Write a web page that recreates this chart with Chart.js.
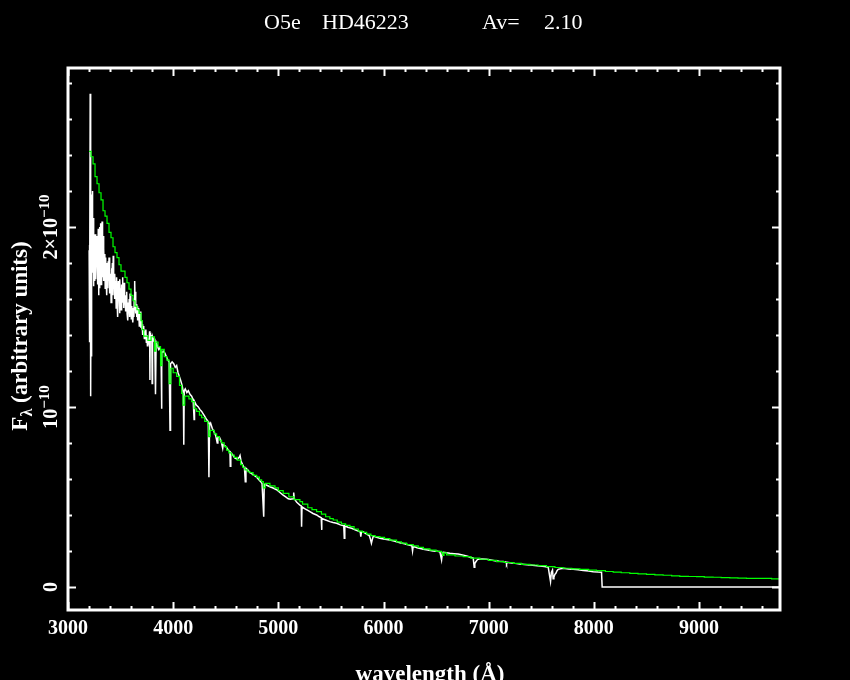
<!DOCTYPE html>
<html>
<head>
<meta charset="utf-8">
<title>O5e HD46223</title>
<script src="https://cdn.jsdelivr.net/npm/chart.js@4.4.0/dist/chart.umd.min.js"></script>
<style>
  html, body { margin: 0; padding: 0; background: #000; }
  #wrap { width: 850px; height: 680px; }
</style>
</head>
<body>
<div id="wrap"><canvas id="chart" width="850" height="680"></canvas></div>
<script>
// flux values are in units of 1e-10 (arbitrary units), wavelengths in Angstrom
const modelWave = [3200, 3219, 3238, 3257, 3276, 3295, 3314, 3333, 3352, 3371, 3390, 3409, 3428, 3447, 3466, 3485, 3504, 3523, 3542, 3561,
    3580, 3599, 3618, 3637, 3656, 3675, 3694, 3705, 3720, 3760, 3790, 3822, 3835, 3856, 3880, 3893, 3915, 3940, 3962, 3978,
    4000, 4033, 4060, 4081, 4093, 4110, 4150, 4176, 4200, 4223, 4250, 4271, 4300, 4330, 4338, 4352, 4390, 4413, 4440, 4460,
    4485, 4508, 4530, 4555, 4580, 4609, 4641, 4660, 4683, 4710, 4730, 4760, 4794, 4820, 4841, 4857, 4875, 4920, 4968, 5000,
    5046, 5100, 5150, 5205, 5230, 5280, 5320, 5364, 5410, 5450, 5490, 5522, 5560, 5600, 5640, 5681, 5720, 5760, 5800, 5840,
    5880, 5920, 5966, 6010, 6060, 6124, 6170, 6220, 6283, 6330, 6380, 6441, 6500, 6552, 6563, 6575, 6600, 6680, 6758, 6830,
    6916, 7000, 7075, 7150, 7233, 7310, 7392, 7470, 7550, 7630, 7708, 7790, 7867, 7950, 8025, 8110, 8184, 8260, 8342, 8420,
    8501, 8580, 8659, 8740, 8817, 8900, 8976, 9050, 9134, 9210, 9293, 9370, 9451, 9530, 9609, 9690, 9770];
const modelFlux = [2.42, 2.39, 2.35, 2.28, 2.24, 2.19, 2.15, 2.09, 2.06, 2.02, 1.97, 1.94, 1.89, 1.857, 1.83, 1.79, 1.755, 1.755, 1.72, 1.69,
    1.655, 1.62, 1.59, 1.56, 1.54, 1.52, 1.48, 1.43, 1.394, 1.37, 1.39, 1.31, 1.36, 1.335, 1.23, 1.32, 1.28, 1.26, 1.13, 1.215,
    1.19, 1.17, 1.12, 1.075, 1.01, 1.06, 1.045, 1.03, 0.99, 0.975, 0.955, 0.94, 0.92, 0.90, 0.835, 0.87, 0.85, 0.835, 0.815, 0.80,
    0.78, 0.76, 0.745, 0.733, 0.72, 0.705, 0.68, 0.665, 0.65, 0.64, 0.635, 0.62, 0.61, 0.595, 0.585, 0.55, 0.575, 0.562, 0.55, 0.535,
    0.52, 0.50, 0.485, 0.474, 0.46, 0.44, 0.43, 0.418, 0.405, 0.39, 0.38, 0.372, 0.36, 0.35, 0.342, 0.335, 0.322, 0.31, 0.303, 0.294,
    0.285, 0.28, 0.276, 0.268, 0.26, 0.25, 0.243, 0.235, 0.228, 0.22, 0.212, 0.205, 0.198, 0.19, 0.175, 0.19, 0.178, 0.172, 0.168, 0.16,
    0.154, 0.148, 0.141, 0.136, 0.131, 0.126, 0.122, 0.118, 0.113, 0.108, 0.104, 0.10, 0.098, 0.094, 0.091, 0.086, 0.082, 0.079, 0.076, 0.073,
    0.07, 0.067, 0.065, 0.062, 0.059, 0.058, 0.057, 0.055, 0.054, 0.052, 0.05, 0.049, 0.048, 0.048, 0.048, 0.045, 0.043];

const obsWave = [3201, 3203, 3205, 3208, 3211, 3214, 3217, 3220, 3223, 3226, 3229, 3232, 3235, 3238, 3241, 3244, 3247, 3250, 3254, 3257,
    3260, 3263, 3266, 3270, 3273, 3276, 3279, 3282, 3285, 3288, 3291, 3294, 3297, 3300, 3303, 3306, 3309, 3312, 3315, 3318,
    3321, 3324, 3327, 3330, 3333, 3336, 3339, 3342, 3346, 3350, 3354, 3358, 3362, 3366, 3370, 3374, 3378, 3382, 3386, 3390,
    3394, 3398, 3402, 3406, 3410, 3414, 3418, 3422, 3426, 3430, 3434, 3438, 3442, 3446, 3450, 3454, 3458, 3462, 3466, 3470,
    3474, 3478, 3482, 3486, 3490, 3494, 3498, 3502, 3506, 3510, 3514, 3518, 3522, 3526, 3530, 3534, 3538, 3542, 3546, 3550,
    3554, 3558, 3562, 3566, 3570, 3574, 3578, 3582, 3586, 3590, 3594, 3598, 3602, 3606, 3610, 3614, 3618, 3622, 3626, 3630,
    3634, 3638, 3642, 3646, 3650, 3654, 3658, 3662, 3666, 3670, 3674, 3678, 3682, 3686, 3690, 3694, 3698, 3702, 3706, 3710,
    3714, 3718, 3722, 3726, 3730, 3735, 3740, 3745, 3750, 3755, 3760, 3765, 3770, 3776, 3779, 3782, 3790, 3797, 3800, 3804,
    3815, 3825, 3832, 3838, 3850, 3862, 3875, 3885, 3889, 3893, 3905, 3920, 3935, 3950, 3962, 3970, 3975, 3990, 4005, 4020,
    4033, 4046, 4058, 4070, 4085, 4097, 4101, 4105, 4115, 4130, 4144, 4160, 4176, 4190, 4199, 4203, 4220, 4239, 4255, 4271,
    4287, 4302, 4318, 4334, 4340, 4346, 4356, 4372, 4388, 4405, 4419, 4425, 4438, 4456, 4471, 4476, 4502, 4525, 4540, 4543,
    4548, 4570, 4588, 4610, 4628, 4636, 4645, 4660, 4678, 4686, 4692, 4710, 4730, 4746, 4770, 4794, 4815, 4832, 4845, 4861,
    4866, 4890, 4920, 4950, 4984, 5015, 5046, 5070, 5094, 5115, 5140, 5146, 5152, 5175, 5205, 5218, 5221, 5225, 5250, 5280,
    5300, 5330, 5364, 5390, 5408, 5411, 5415, 5450, 5490, 5520, 5554, 5590, 5622, 5627, 5632, 5660, 5697, 5730, 5760, 5780,
    5784, 5790, 5810, 5839, 5865, 5876, 5885, 5892, 5903, 5935, 5966, 6000, 6030, 6061, 6100, 6156, 6200, 6251, 6270, 6276,
    6282, 6320, 6378, 6420, 6472, 6510, 6536, 6552, 6560, 6568, 6600, 6631, 6670, 6710, 6750, 6790, 6820, 6853, 6862, 6868,
    6878, 6890, 6900, 6940, 6979, 7020, 7059, 7100, 7138, 7165, 7170, 7176, 7202, 7250, 7297, 7340, 7392, 7440, 7487, 7530,
    7566, 7588, 7596, 7607, 7613, 7620, 7630, 7639, 7650, 7661, 7708, 7760, 7803, 7850, 7899, 7950, 7994, 8040, 8073, 8079,
    9770];
const obsFlux = [1.87, 1.36, 1.90, 1.45, 2.74, 1.40, 1.06, 1.95, 1.28, 2.18, 1.75, 2.20, 1.80, 2.05, 1.67, 1.98, 1.75, 1.93, 1.70, 1.96,
    1.82, 1.94, 1.71, 1.90, 1.78, 1.95, 1.68, 1.92, 1.74, 1.99, 1.62, 1.97, 1.80, 2.00, 1.66, 1.95, 1.85, 2.02, 1.68, 1.93,
    1.76, 2.03, 1.72, 1.90, 1.80, 1.95, 1.70, 1.88, 1.74, 1.85, 1.66, 1.83, 1.72, 1.80, 1.62, 1.78, 1.66, 1.81, 1.70, 1.83,
    1.63, 1.76, 1.68, 1.74, 1.58, 1.77, 1.68, 1.80, 1.62, 1.84, 1.66, 1.72, 1.60, 1.74, 1.64, 1.70, 1.55, 1.72, 1.60, 1.68,
    1.50, 1.70, 1.60, 1.66, 1.52, 1.71, 1.58, 1.66, 1.54, 1.68, 1.60, 1.72, 1.58, 1.65, 1.55, 1.69, 1.57, 1.62, 1.53, 1.60,
    1.56, 1.64, 1.52, 1.58, 1.48, 1.57, 1.53, 1.60, 1.50, 1.63, 1.55, 1.58, 1.49, 1.56, 1.52, 1.55, 1.47, 1.53, 1.50, 1.60,
    1.70, 1.58, 1.64, 1.52, 1.57, 1.50, 1.56, 1.48, 1.55, 1.50, 1.53, 1.45, 1.52, 1.48, 1.53, 1.44, 1.48, 1.43, 1.46, 1.40,
    1.45, 1.41, 1.44, 1.38, 1.42, 1.38, 1.43, 1.36, 1.40, 1.34, 1.38, 1.35, 1.37, 1.42, 1.15, 1.41, 1.38, 1.40, 1.13, 1.39,
    1.37, 1.36, 1.07, 1.36, 1.34, 1.32, 1.33, 1.30, 0.99, 1.30, 1.31, 1.30, 1.28, 1.26, 1.25, 0.87, 1.24, 1.25, 1.24, 1.22,
    1.23, 1.19, 1.17, 1.15, 1.12, 1.08, 0.79, 1.09, 1.10, 1.08, 1.09, 1.07, 1.06, 1.04, 0.93, 1.03, 1.01, 1.00, 0.985, 0.975,
    0.96, 0.946, 0.93, 0.918, 0.61, 0.90, 0.91, 0.88, 0.863, 0.84, 0.80, 0.835, 0.835, 0.81, 0.77, 0.79, 0.78, 0.76, 0.75, 0.67,
    0.746, 0.73, 0.715, 0.71, 0.72, 0.73, 0.70, 0.68, 0.66, 0.585, 0.66, 0.65, 0.635, 0.63, 0.62, 0.61, 0.595, 0.585, 0.575, 0.39,
    0.57, 0.565, 0.557, 0.55, 0.54, 0.525, 0.51, 0.50, 0.49, 0.487, 0.49, 0.525, 0.49, 0.47, 0.455, 0.45, 0.335, 0.445, 0.435, 0.425,
    0.418, 0.408, 0.40, 0.39, 0.385, 0.317, 0.38, 0.372, 0.363, 0.358, 0.354, 0.345, 0.34, 0.27, 0.34, 0.332, 0.326, 0.318, 0.31, 0.305,
    0.28, 0.305, 0.305, 0.294, 0.285, 0.265, 0.243, 0.26, 0.283, 0.276, 0.27, 0.266, 0.264, 0.261, 0.255, 0.246, 0.24, 0.232, 0.228, 0.20,
    0.226, 0.218, 0.209, 0.205, 0.20, 0.198, 0.196, 0.15, 0.19, 0.193, 0.19, 0.187, 0.185, 0.183, 0.178, 0.172, 0.166, 0.16, 0.11, 0.13,
    0.14, 0.15, 0.154, 0.155, 0.154, 0.15, 0.146, 0.143, 0.141, 0.138, 0.128, 0.137, 0.135, 0.131, 0.128, 0.125, 0.122, 0.119, 0.117, 0.114,
    0.11, 0.03, 0.08, 0.094, 0.045, 0.054, 0.07, 0.076, 0.09, 0.098, 0.104, 0.10, 0.098, 0.095, 0.091, 0.088, 0.085, 0.083, 0.082, 0,
    0];

const xMajorTicks = [3000, 4000, 5000, 6000, 7000, 8000, 9000];
const yMajorTicks = [0, 1, 2];
// [mantissa, exponent] for each y tick label
const yTickLabels = [['0', ''], ['10', '\u221210'], ['2\u00d710', '\u221210']];

const titleParts = ['O5e', 'HD46223', 'Av=', '2.10'];
const xTitle = 'wavelength (\u00c5)';
const yTitle = ['F', '\u03bb', ' (arbitrary units)'];

function toPoints(xs, ys) {
    return xs.map((x, i) => ({ x: x, y: ys[i] }));
}

function line(ctx, x1, y1, x2, y2) {
    ctx.beginPath();
    ctx.moveTo(x1, y1);
    ctx.lineTo(x2, y2);
    ctx.stroke();
}

const framePlugin = {
    id: 'frame',
    beforeDraw(chart) {
        const ctx = chart.ctx;
        ctx.save();
        ctx.fillStyle = '#000';
        ctx.fillRect(0, 0, chart.width, chart.height);
        ctx.restore();
    },
    afterDraw(chart) {
        const ctx = chart.ctx;
        const a = chart.chartArea;
        const xs = chart.scales.x;
        const ys = chart.scales.y;
        ctx.save();
        ctx.strokeStyle = '#fff';
        ctx.fillStyle = '#fff';

        // ticks on all four sides, pointing in
        ctx.lineWidth = 2;
        for (let i = 0; 3000 + i * 200 <= xs.max; i++) {
            const px = Math.round(xs.getPixelForValue(3000 + i * 200)) + 0.5;
            const len = i % 5 === 0 ? 8 : 4;
            line(ctx, px, a.bottom, px, a.bottom - len);
            line(ctx, px, a.top, px, a.top + len);
        }
        for (let i = 0; i * 0.2 <= ys.max; i++) {
            const py = Math.round(ys.getPixelForValue(i * 0.2)) + 0.5;
            const len = i % 5 === 0 ? 8 : 4;
            line(ctx, a.left, py, a.left + len, py);
            line(ctx, a.right, py, a.right - len, py);
        }
        ctx.lineWidth = 3;
        ctx.strokeRect(a.left, a.top, a.right - a.left, a.bottom - a.top);

        // x tick labels
        ctx.font = 'bold 20px "Liberation Serif"';
        ctx.textAlign = 'center';
        ctx.textBaseline = 'alphabetic';
        xMajorTicks.forEach(v => {
            ctx.fillText(String(v), xs.getPixelForValue(v), 634);
        });

        // y tick labels, rotated, with superscript exponent
        yMajorTicks.forEach((v, i) => {
            const py = ys.getPixelForValue(v);
            const main = yTickLabels[i][0];
            const sup = yTickLabels[i][1];
            ctx.save();
            ctx.translate(57, py);
            ctx.rotate(-Math.PI / 2);
            ctx.textAlign = 'left';
            ctx.font = 'bold 20px "Liberation Serif"';
            const w1 = ctx.measureText(main).width;
            ctx.font = 'bold 15px "Liberation Serif"';
            const w2 = sup ? ctx.measureText(sup).width : 0;
            const start = -(w1 + w2) / 2;
            ctx.font = 'bold 20px "Liberation Serif"';
            ctx.fillText(main, start, 0);
            if (sup) {
                ctx.font = 'bold 15px "Liberation Serif"';
                ctx.fillText(sup, start + w1, -8);
            }
            ctx.restore();
        });

        // title
        ctx.font = '22px "Liberation Serif"';
        ctx.textAlign = 'left';
        ctx.fillText(titleParts[0], 264, 29);
        ctx.fillText(titleParts[1], 322, 29);
        ctx.fillText(titleParts[2], 482, 29);
        ctx.fillText(titleParts[3], 544, 29);

        // x axis title
        ctx.font = 'bold 23px "Liberation Serif"';
        ctx.textAlign = 'center';
        ctx.fillText(xTitle, 430, 681);

        // y axis title with subscript lambda
        ctx.save();
        ctx.translate(27, 336);
        ctx.rotate(-Math.PI / 2);
        ctx.textAlign = 'left';
        ctx.font = 'bold 23px "Liberation Serif"';
        const wf = ctx.measureText(yTitle[0]).width;
        const wr = ctx.measureText(yTitle[2]).width;
        ctx.font = 'bold 16px "Liberation Serif"';
        const wl = ctx.measureText(yTitle[1]).width;
        let sx = -(wf + wl + wr) / 2;
        ctx.font = 'bold 23px "Liberation Serif"';
        ctx.fillText(yTitle[0], sx, 0);
        ctx.font = 'bold 16px "Liberation Serif"';
        ctx.fillText(yTitle[1], sx + wf, 5);
        ctx.font = 'bold 23px "Liberation Serif"';
        ctx.fillText(yTitle[2], sx + wf + wl, 0);
        ctx.restore();

        ctx.restore();
    }
};

new Chart(document.getElementById('chart').getContext('2d'), {
    type: 'line',
    data: {
        datasets: [
            {
                label: 'model',
                data: toPoints(modelWave, modelFlux),
                borderColor: '#00ff00',
                borderWidth: 1.2,
                stepped: true,
                pointRadius: 0,
                fill: false
            },
            {
                label: 'HD46223',
                data: toPoints(obsWave, obsFlux),
                borderColor: '#ffffff',
                borderWidth: 1.5,
                pointRadius: 0,
                fill: false
            }
        ]
    },
    options: {
        responsive: false,
        animation: false,
        devicePixelRatio: 1,
        layout: { padding: { left: 68, top: 68, right: 70, bottom: 70 } },
        plugins: { legend: { display: false }, tooltip: { enabled: false } },
        scales: {
            x: { type: 'linear', min: 3000, max: 9770, display: false },
            y: { type: 'linear', min: -0.128, max: 2.883, display: false }
        }
    },
    plugins: [framePlugin]
});
</script>
</body>
</html>
